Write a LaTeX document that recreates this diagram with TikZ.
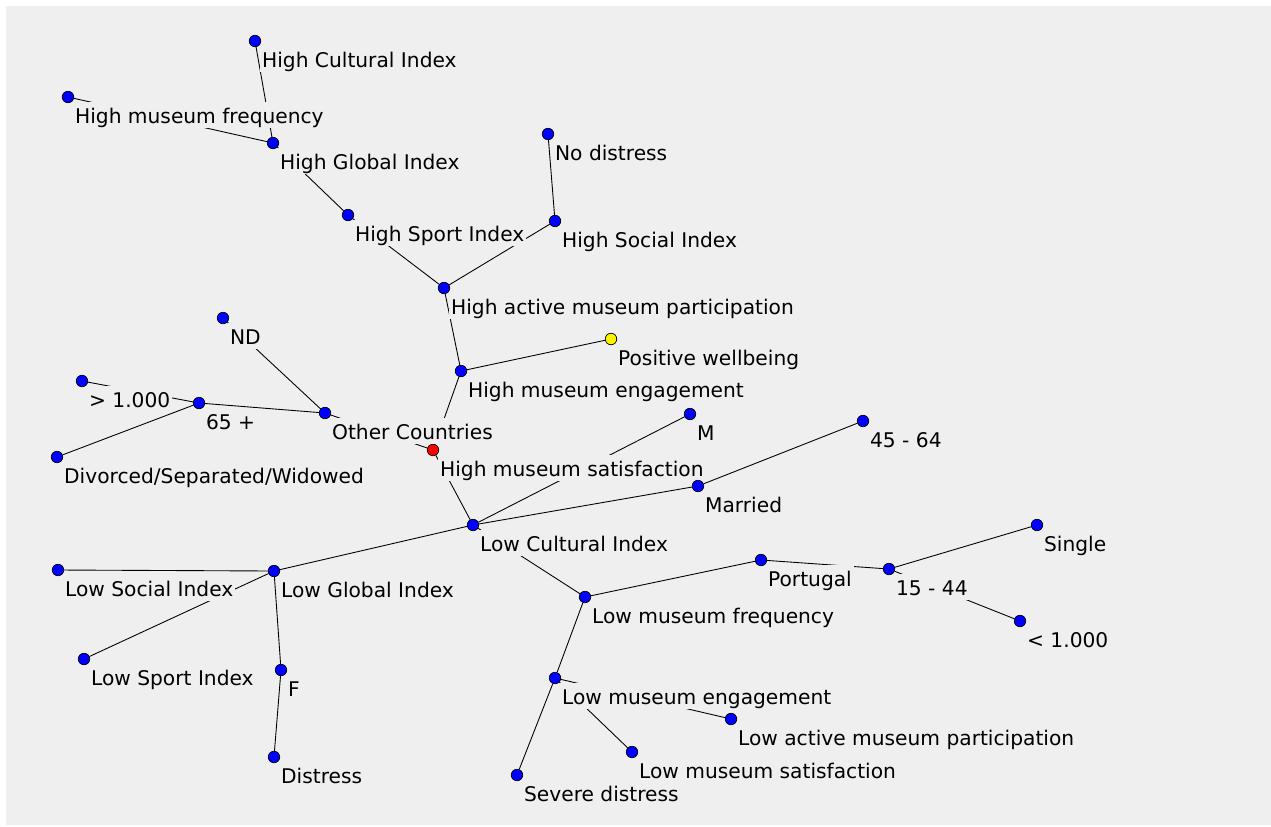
\documentclass[tikz,border=0pt]{standalone}
\usepackage{fontspec}
\setmainfont{DejaVu Sans}
\usepackage{xcolor}
\usepackage{tikz}
\usetikzlibrary{positioning, backgrounds}

\definecolor{panelgray}{HTML}{EFEFEF}
\definecolor{dotblue}{HTML}{0000FF}

\begin{document}
\begin{tikzpicture}[
        x=0.02cm, y=-0.02cm,
        dot/.style={draw=black, circle, fill=dotblue, minimum size=0.23cm, inner sep=0pt, line width=0.4pt},
        lbl/.style={fill=panelgray, inner xsep=1pt, inner ysep=0pt, text height=1.2em, text depth=0.25em, font=\fontsize{11.5}{13}\selectfont},
        every label/.style={lbl},
        label distance=0.02cm,
        edge/.style={draw=black, line width=0.5pt}
    ]
    \useasboundingbox (0,0) rectangle (1271,826);

    % High branch
    \node[dot, label=below right:High Cultural Index] (hcult) at (255,41) {};
    \node[dot, label=below right:High museum frequency] (hmfreq) at (68,97) {};
    \node[dot, label=below right:High Global Index] (hglob) at (273,143) {};
    \node[dot, label=below right:High Sport Index] (hsport) at (348,215) {};
    \node[dot, label=below right:No distress] (nodis) at (548,134) {};
    \node[dot, label=below right:High Social Index] (hsoc) at (555,221) {};
    \node[dot, label=below right:High active museum participation] (hact) at (444,288) {};
    \node[dot, fill=yellow, label=below right:Positive wellbeing] (pwell) at (611,339) {};
    \node[dot, label=below right:High museum engagement] (heng) at (461,371) {};
    \node[dot, fill=red, label=below right:High museum satisfaction] (hsat) at (433,450) {};

    % Other countries
    \node[dot, label=below right:ND] (nd) at (223,318) {};
    \node[dot, label=below right:> 1.000] (gtk) at (82,381) {};
    \node[dot, label=below right:65 +] (old) at (199,403) {};
    \node[dot, label=below right:Other Countries] (other) at (325,413) {};
    \node[dot, label=below right:Divorced/Separated/Widowed] (div) at (57,457) {};

    % Low branch
    \node[dot, label=below right:M] (male) at (690,414) {};
    \node[dot, label=below right:45 - 64] (mid) at (863,421) {};
    \node[dot, label=below right:Married] (mar) at (698,486) {};
    \node[dot, label=below right:Low Cultural Index] (lcult) at (473,525) {};
    \node[dot, label=below right:Low Social Index] (lsoc) at (58,570) {};
    \node[dot, label=below right:Low Global Index] (lglob) at (274,571) {};
    \node[dot, label=below right:Low Sport Index] (lsport) at (84,659) {};
    \node[dot, label=below right:F] (fem) at (281,670) {};
    \node[dot, label=below right:Distress] (dis) at (274,757) {};

    % Portugal
    \node[dot, label=below right:Single] (single) at (1037,525) {};
    \node[dot, label=below right:Portugal] (port) at (761,560) {};
    \node[dot, label=below right:15 - 44] (young) at (889,569) {};
    \node[dot, label=below right:Low museum frequency] (lmfreq) at (585,597) {};
    \node[dot, label=below right:< 1.000] (ltk) at (1020,621) {};
    \node[dot, label=below right:Low museum engagement] (leng) at (555,678) {};
    \node[dot, label=below right:Low active museum participation] (lact) at (731,719) {};
    \node[dot, label=below right:Low museum satisfaction] (lsat) at (632,752) {};
    \node[dot, label=below right:Severe distress] (sevdis) at (517,775) {};

    \begin{scope}[on background layer]
    \fill[panelgray] (6,6) rectangle (1271,825);

    \draw[edge] (hcult) -- (hglob); \draw[edge] (hmfreq) -- (hglob);
    \draw[edge] (hglob) -- (hsport); \draw[edge] (hsport) -- (hact);
    \draw[edge] (nodis) -- (hsoc); \draw[edge] (hsoc) -- (hact);
    \draw[edge] (hact) -- (heng); \draw[edge] (heng) -- (pwell);
    \draw[edge] (heng) -- (hsat); \draw[edge] (other) -- (hsat);
    \draw[edge] (hsat) -- (lcult);

    \draw[edge] (other) -- (nd); \draw[edge] (other) -- (old);
    \draw[edge] (old) -- (gtk); \draw[edge] (old) -- (div);

    \draw[edge] (male) -- (lcult); \draw[edge] (lcult) -- (mar);
    \draw[edge] (mar) -- (mid); \draw[edge] (lcult) -- (lglob);
    \draw[edge] (lglob) -- (lsoc); \draw[edge] (lglob) -- (lsport);
    \draw[edge] (lglob) -- (fem); \draw[edge] (fem) -- (dis);

    \draw[edge] (lcult) -- (lmfreq); \draw[edge] (lmfreq) -- (port);
    \draw[edge] (port) -- (young); \draw[edge] (young) -- (single);
    \draw[edge] (young) -- (ltk); \draw[edge] (lmfreq) -- (leng);
    \draw[edge] (leng) -- (sevdis); \draw[edge] (leng) -- (lact);
    \draw[edge] (leng) -- (lsat);
    \end{scope}

\end{tikzpicture}
\end{document}
